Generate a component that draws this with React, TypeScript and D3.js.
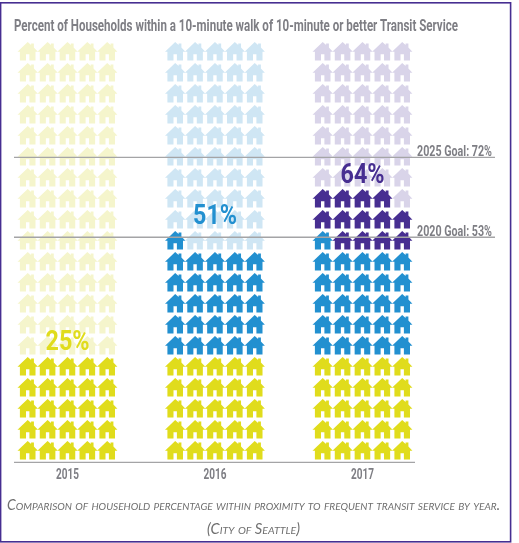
import React from "react";
import * as d3 from "d3";

const years = ["2015", "2016", "2017"];
const yearTotals = [25, 51, 64];
const yearColors = ["#e0dc1b", "#2490d0", "#472e91"];
const yearGhosts = ["#f5f5cc", "#cfe6f4", "#d9d4e9"];
const yearLabels = ["25%", "51%", "64%"];
const labelBaselines = [350, 224, 183];
const goalValues = [72, 53];
const goalLabels = ["2025 Goal: 72%", "2020 Goal: 53%"];
const slots = d3.range(100);

const titleText = "Percent of Households within a 10-minute walk of 10-minute or better Transit Service";
const captionLines = [
  "Comparison of household percentage within proximity to frequent transit service by year.",
  "(City of Seattle)",
];

const HOUSE = "M10 -0.2 L13.4 2.8 L13.4 1.2 L16.2 1.2 L16.2 5.2 L20.2 9.6 L17.8 9.6 L17.8 18.2 L11.7 18.2 L11.7 12 L8.3 12 L8.3 18.2 L2.2 18.2 L2.2 9.6 L-0.2 9.6 Z";

const perRow = 5;
const year = d3.scaleLinear().domain([0, 2]).range([18, 313]);
const cell = d3.scaleLinear().domain([0, 4]).range([0, 79.5]);
const y = d3.scaleLinear().domain([0, 100]).range([459.8, 39.8]);

// A house belongs to the first year whose total reaches past it.
const colorOf = (slot: number, yearIndex: number) => {
  if (slot >= yearTotals[yearIndex]) return yearGhosts[yearIndex];
  return yearColors[yearTotals.findIndex((t) => slot < t)];
};

const sans = "Roboto, 'Open Sans', sans-serif";
const gray = "#7e7e84";

// Horizontally squeezed text, standing in for the reference's condensed face.
function Narrow({ x, y: baseline, width, squeeze, size, weight, fill, anchor, family, italic, caps, children }: any) {
  return (
    <text
      transform={`translate(${x},${baseline}) scale(${squeeze},1)`}
      fontFamily={family ?? sans}
      fontSize={size}
      fontWeight={weight}
      fontStyle={italic ? "italic" : undefined}
      fill={fill}
      textAnchor={anchor}
      textLength={width / squeeze}
      lengthAdjust="spacingAndGlyphs"
      style={caps ? { fontVariant: "small-caps" } : undefined}
    >
      {children}
    </text>
  );
}

export default function App() {
  return (
    <svg
      width={519}
      height={543}
      viewBox="0 0 519 543"
      style={{ position: "absolute", left: 0, top: 0, background: "#fff" }}
    >
      <defs>
        <filter id="soft" x="-2%" y="-2%" width="104%" height="104%">
          <feGaussianBlur stdDeviation="0.3" />
        </filter>
      </defs>
      <rect x={0.6} y={2.8} width={510} height={539} fill="none" stroke="#472e91" strokeWidth={1.6} />
      <g filter="url(#soft)">
        <Narrow x={14} y={31} width={444} squeeze={0.7} size={16.5} weight={700} fill={gray}>
          {titleText}
        </Narrow>

        {years.map((yr, yi) => (
          <g key={yr}>
            {slots.map((slot) => {
              const col = slot % perRow;
              const row = Math.floor(slot / perRow);
              return (
                <path
                  key={slot}
                  d={HOUSE}
                  fill={colorOf(slot, yi)}
                  transform={`translate(${year(yi) + cell(col) - 0.3},${y((row * 100) / 20) - 18.6})`}
                />
              );
            })}
          </g>
        ))}

        {goalValues.map((g, i) => (
          <g key={g}>
            <line x1={14} x2={495} y1={y(g)} y2={y(g)} stroke="#a4a4a6" strokeWidth={1.4} />
            <Narrow x={417} y={y(g) - 1.3} width={75} squeeze={0.72} size={14} weight={700} fill={gray}>
              {goalLabels[i]}
            </Narrow>
          </g>
        ))}

        {years.map((yr, yi) => (
          <Narrow
            key={yr}
            x={year(yi) + 49.5}
            y={labelBaselines[yi]}
            width={44}
            squeeze={0.72}
            size={28}
            weight={700}
            fill={yearColors[yi]}
            anchor="middle"
          >
            {yearLabels[yi]}
          </Narrow>
        ))}

        <line x1={14} x2={415} y1={462.4} y2={462.4} stroke="#a4a4a6" strokeWidth={1.4} />
        {years.map((yr, yi) => (
          <Narrow
            key={yr}
            x={year(yi) + 49.5}
            y={479}
            width={23}
            squeeze={0.75}
            size={15}
            weight={700}
            fill={gray}
            anchor="middle"
          >
            {yr}
          </Narrow>
        ))}

        <Narrow x={7} y={510} width={493} squeeze={0.92} size={14.5} family="Lato, sans-serif" italic caps fill="#6f6f6f">
          {captionLines[0]}
        </Narrow>
        <Narrow x={253.5} y={534} width={93} squeeze={0.92} size={14.5} family="Lato, sans-serif" italic caps fill="#6f6f6f" anchor="middle">
          {captionLines[1]}
        </Narrow>
      </g>
    </svg>
  );
}
